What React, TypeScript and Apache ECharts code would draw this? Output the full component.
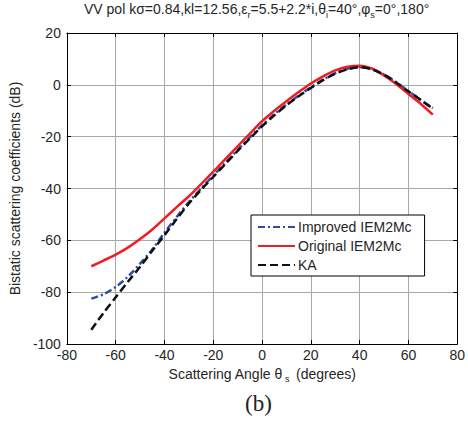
import React, { useEffect, useRef } from "react";
import * as echarts from "echarts";

const angles = [-70, -65, -60, -55, -50, -45, -40, -35, -30, -25, -20, -15, -10, -5, 0, 5, 10, 15, 20, 25, 30, 35, 40, 45, 50, 55, 60, 65, 70];

const improved = [-82.5, -80.8, -78.0, -74.0, -69.0, -63.5, -57.0, -51.0, -45.2, -40.0, -35.0, -30.0, -25.1, -20.3, -15.6, -11.4, -7.6, -4.1, -1.0, 2.0, 4.5, 6.2, 6.9, 6.1, 4.0, 1.0, -2.4, -5.8, -9.0];

const original = [-70.0, -67.8, -65.5, -62.8, -59.5, -55.8, -51.5, -47.2, -43.0, -38.3, -33.5, -28.6, -23.7, -18.8, -14.0, -10.0, -6.3, -2.8, 0.5, 3.3, 5.6, 7.0, 7.4, 6.3, 3.6, 0.3, -3.5, -7.3, -11.5];

const ka = [-94.5, -88.0, -82.0, -76.0, -70.2, -64.0, -58.0, -51.8, -45.8, -40.5, -35.5, -30.5, -25.5, -20.7, -16.0, -11.8, -7.9, -4.4, -1.2, 1.8, 4.3, 6.0, 6.8, 6.0, 3.9, 0.9, -2.5, -5.8, -9.2];

const seriesNames = ["Improved IEM2Mc", "Original IEM2Mc", "KA"];

const FONT = "'Liberation Sans', Arial, sans-serif";
const TXT = "#262626";

const richSub = {
  n: { fontSize: 14, lineHeight: 17, verticalAlign: "top", color: TXT, fontFamily: FONT },
  s: { fontSize: 9, lineHeight: 8, verticalAlign: "bottom", color: TXT, fontFamily: FONT },
};

export default function App() {
  const ref = useRef<HTMLDivElement>(null);
  useEffect(() => {
    if (!ref.current) return;
    const chart = echarts.init(ref.current, null, { renderer: "svg" });
    const pair = (arr: number[]) => angles.map((a, i) => [a, arr[i]]);
    const axisLine = { show: true, onZero: false, lineStyle: { color: "#000", width: 1 } };
    const axisTick = { show: true, inside: true, length: 4, lineStyle: { color: "#000" } };
    chart.setOption({
      animation: false,
      backgroundColor: "#ffffff",
      textStyle: { fontFamily: FONT, color: TXT },
      title: {
        text: "{n|VV pol kσ=0.84,kl=12.56,ε}{s|r}{n|=5.5+2.2*i,θ}{s|i}{n|=40°,φ}{s|s}{n|=0°,180°}",
        left: 84,
        top: 2,
        padding: 0,
        textStyle: { fontSize: 14, fontWeight: "normal", color: TXT, fontFamily: FONT, rich: richSub },
      },
      graphic: [
        {
          type: "text",
          left: 245,
          top: 392,
          style: { text: "(b)", fontSize: 23, fontFamily: "'Liberation Serif', 'DejaVu Serif', serif", fill: "#222" },
        },
      ],
      grid: { left: 63, right: 7, top: 33, bottom: 81 },
      legend: {
        orient: "vertical",
        left: 251,
        top: 215,
        data: seriesNames,
        itemWidth: 37,
        itemHeight: 14,
        itemGap: 5,
        padding: [5, 13, 4, 6],
        borderColor: "#000",
        borderWidth: 1,
        backgroundColor: "#fff",
        borderRadius: 0,
        itemStyle: { opacity: 0 },
        textStyle: { fontSize: 14, color: TXT, fontFamily: FONT, padding: [0, 0, 0, -2] },
      },
      xAxis: [
        {
          type: "value",
          min: -80,
          max: 80,
          interval: 20,
          position: "bottom",
          name: "{n|Scattering Angle θ}{s| s }{n| (degrees)}",
          nameLocation: "middle",
          nameGap: 21,
          nameTextStyle: { rich: richSub },
          axisLine,
          axisTick,
          axisLabel: { fontSize: 14, color: TXT, margin: 4, fontFamily: FONT },
          splitLine: { show: true, lineStyle: { color: "#a8a8a8", width: 1 } },
        },
        {
          type: "value",
          min: -80,
          max: 80,
          interval: 20,
          position: "top",
          axisLine,
          axisTick,
          axisLabel: { show: false },
          splitLine: { show: false },
        },
      ],
      yAxis: [
        {
          type: "value",
          min: -100,
          max: 20,
          interval: 20,
          position: "left",
          name: "Bistatic scattering coefficients (dB)",
          nameLocation: "middle",
          nameGap: 33,
          nameTextStyle: { fontSize: 14, color: TXT, fontFamily: FONT },
          axisLine,
          axisTick,
          axisLabel: { fontSize: 14, color: TXT, margin: 6, fontFamily: FONT },
          splitLine: { show: true, lineStyle: { color: "#a8a8a8", width: 1 } },
        },
        {
          type: "value",
          min: -100,
          max: 20,
          interval: 20,
          position: "right",
          axisLine,
          axisTick,
          axisLabel: { show: false },
          splitLine: { show: false },
        },
      ],
      series: [
        {
          name: seriesNames[0],
          type: "line",
          data: pair(improved),
          symbol: "none",
          smooth: 0.3,
          z: 3,
          lineStyle: { color: "#2d4da3", width: 2.5, type: [7, 3, 2, 3] },
          itemStyle: { color: "#2d4da3" },
        },
        {
          name: seriesNames[1],
          type: "line",
          data: pair(original),
          symbol: "none",
          smooth: 0.3,
          z: 4,
          lineStyle: { color: "#ee1d24", width: 2.5, type: "solid" },
          itemStyle: { color: "#ee1d24" },
        },
        {
          name: seriesNames[2],
          type: "line",
          data: pair(ka),
          symbol: "none",
          smooth: 0.3,
          z: 5,
          lineStyle: { color: "#111111", width: 2.5, type: [8, 4] },
          itemStyle: { color: "#111111" },
        },
      ],
    });
    return () => chart.dispose();
  }, []);
  return <div ref={ref} style={{ width: 468, height: 425, position: "absolute", left: 0, top: 0 }} />;
}
